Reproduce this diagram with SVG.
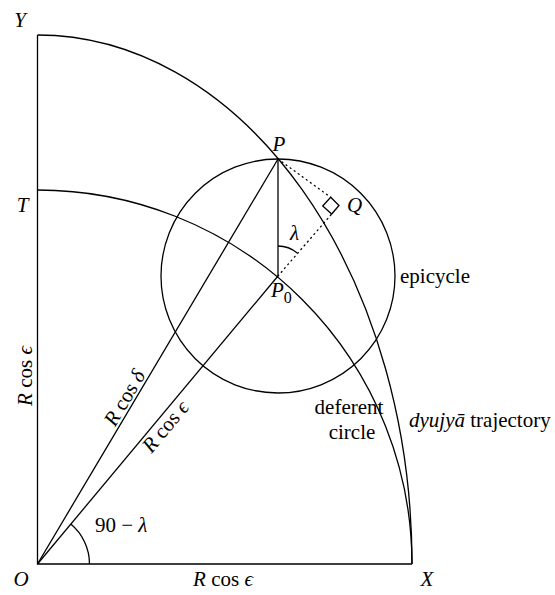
<svg xmlns="http://www.w3.org/2000/svg" width="555" height="595" viewBox="0 0 555 595">
<style>
text{font-family:"Liberation Serif","DejaVu Serif",serif;font-size:21px;fill:#000}
.i{font-style:italic}
.ln{fill:none;stroke:#000;stroke-width:1.3}
.dot{fill:none;stroke:#000;stroke-width:1.3;stroke-dasharray:1 4;stroke-linecap:round}
</style>
<rect width="555" height="595" fill="#fff"/>
<g id="connectors">
<path class="ln" d="M37.5 35 V564 H412"/>
<path class="ln" d="M37.5 35 A374.5 529 0 0 1 412 564"/>
<path class="ln" d="M37.5 190 A374.5 374.5 0 0 1 412 564"/>
<path class="ln" d="M37.5 564 L278 159"/>
<path class="ln" d="M37.5 564 L278 276"/>
<path class="ln" d="M278 159 V276"/>
<path class="ln" d="M278 246 A30 30 0 0 1 297.2 253"/>
<path class="ln" d="M70.8 524.1 A52 52 0 0 1 89.5 564"/>
<path class="dot" d="M278 159 L330.7 197.3"/>
<path class="dot" d="M278 276 L331.7 214"/>
<polygon class="ln" points="339,205.5 330.7,197.3 322.7,206 331.7,214"/>
</g>
<g id="epicycle"><circle class="ln" cx="278" cy="276" r="117"/><text x="400" y="283">epicycle</text></g>
<g id="deferent"><text x="349" y="414" text-anchor="middle">deferent</text><text x="352" y="439" text-anchor="middle">circle</text></g>
<g id="trajectory"><text x="409" y="427"><tspan class="i">dyujyā</tspan> trajectory</text></g>
<g id="Y"><text class="i" x="20" y="27" text-anchor="middle">Y</text></g>
<g id="T"><text class="i" x="22.5" y="212" text-anchor="middle">T</text></g>
<g id="O"><text class="i" x="21" y="586" text-anchor="middle">O</text></g>
<g id="X"><text class="i" x="427" y="586" text-anchor="middle">X</text></g>
<g id="P"><text class="i" x="279" y="151" text-anchor="middle">P</text></g>
<g id="Q"><text class="i" x="347" y="212">Q</text></g>
<g id="P0"><text x="271" y="297"><tspan class="i">P</tspan><tspan dy="6" font-size="16">0</tspan></text></g>
<g id="lambda"><text class="i" x="294.5" y="240" text-anchor="middle">λ</text></g>
<g id="angleO"><text x="95" y="532">90 − <tspan class="i">λ</tspan></text></g>
<g id="labelOP"><text transform="translate(130.5,401.3) rotate(-59.3)" text-anchor="middle"><tspan class="i">R</tspan> cos <tspan class="i">δ</tspan></text></g>
<g id="labelOP0"><text transform="translate(170.7,431) rotate(-50.1)" text-anchor="middle"><tspan class="i">R</tspan> cos <tspan class="i">ϵ</tspan></text></g>
<g id="labelOY"><text transform="translate(32,376) rotate(-90)" text-anchor="middle"><tspan class="i">R</tspan> cos <tspan class="i">ϵ</tspan></text></g>
<g id="labelOX"><text x="223" y="586" text-anchor="middle"><tspan class="i">R</tspan> cos <tspan class="i">ϵ</tspan></text></g>
</svg>
